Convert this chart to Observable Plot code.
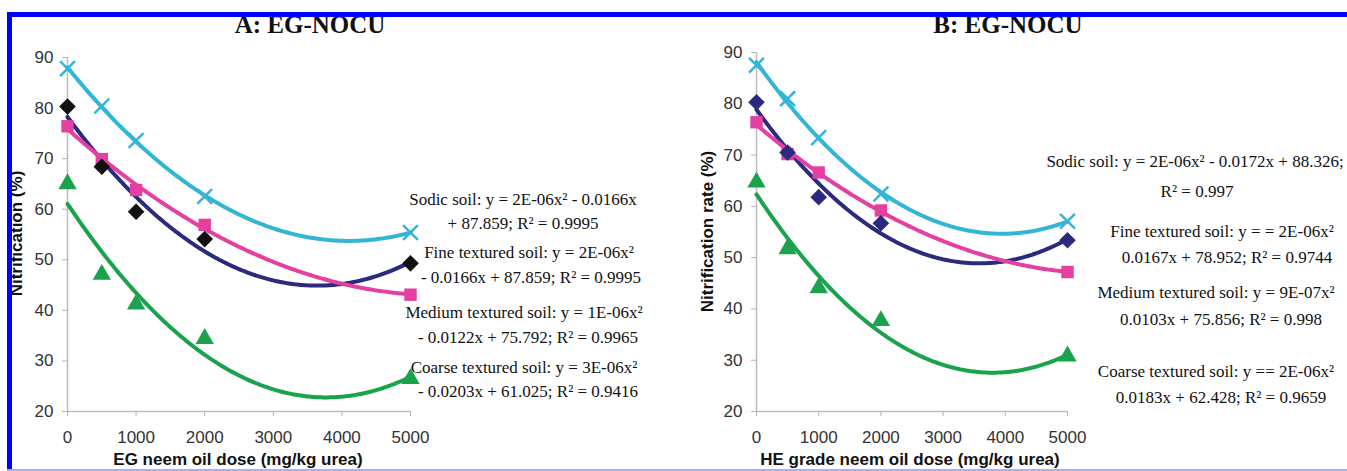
<!DOCTYPE html>
<html><head><meta charset="utf-8">
<script src="https://cdn.jsdelivr.net/npm/d3@7"></script>
<script src="https://cdn.jsdelivr.net/npm/@observablehq/plot@0.6"></script>
<style>
html,body{margin:0;padding:0;background:#fff;}
#wrap{position:relative;width:1347px;height:471px;overflow:hidden;background:#fff;}
.plot{position:absolute;top:0;}
.t{position:absolute;white-space:nowrap;text-align:center;line-height:1;color:#111;}
.serif{font-family:"Liberation Serif","Times New Roman",serif;}
.sans{font-family:"Liberation Sans",Arial,sans-serif;}
.bar{position:absolute;z-index:5;}
svg [aria-label="x-axis tick"] path, svg [aria-label="y-axis tick"] path,
svg g[aria-label="x-axis"] line, svg g[aria-label="y-axis"] line{stroke:#b5b5b5;}
</style></head><body><div id="wrap"></div>
<script>
// ---------- data ----------
const doses = [0, 500, 1000, 2000, 5000];
const soilTypes = ["Sodic soil", "Fine textured soil", "Medium textured soil", "Coarse textured soil"];
const xTicks = [0, 1000, 2000, 3000, 4000, 5000];
const yTicks = [20, 30, 40, 50, 60, 70, 80, 90];

// Panel A: EG neem oil
const aSodic  = [87.8, 80.4, 73.6, 62.5, 55.4];
const aFine   = [80.3, 68.4, 59.5, 54.1, 49.3];
const aMedium = [76.4, 69.9, 63.8, 56.9, 43.1];
const aCoarse = [65.0, 47.1, 41.2, 34.4, 26.5];
// Panel B: HE grade neem oil
const bSodic  = [87.5, 81.0, 73.4, 62.4, 57.1];
const bFine   = [80.3, 70.5, 61.8, 56.7, 53.4];
const bMedium = [76.4, 70.2, 66.6, 59.2, 47.2];
const bCoarse = [64.7, 51.7, 44.1, 37.7, 30.8];

const titleA = "A: EG-NOCU";
const titleB = "B: EG-NOCU";
const xLabelA = "EG neem oil dose (mg/kg urea)";
const xLabelB = "HE grade neem oil dose (mg/kg urea)";
const yLabelA = "Nitrification (%)";
const yLabelB = "Nitrification rate (%)";

const eqA = [
  "Sodic soil: y = 2E-06x² - 0.0166x",
  "+ 87.859; R² = 0.9995",
  "Fine textured soil: y = 2E-06x²",
  "- 0.0166x + 87.859; R² = 0.9995",
  "Medium textured soil: y = 1E-06x²",
  "- 0.0122x + 75.792; R² = 0.9965",
  "Coarse textured soil: y = 3E-06x²",
  "- 0.0203x + 61.025; R² = 0.9416"
];
const eqB = [
  "Sodic soil: y = 2E-06x² - 0.0172x + 88.326;",
  "R² = 0.997",
  "Fine textured soil: y = = 2E-06x²",
  "0.0167x + 78.952; R² = 0.9744",
  "Medium textured soil: y = 9E-07x²",
  "0.0103x + 75.856; R² = 0.998",
  "Coarse textured soil: y == 2E-06x²",
  "0.0183x + 62.428; R² = 0.9659"
];

// ---------- styles / layout ----------
const colors = {"Sodic soil": "#33b6d6", "Fine textured soil": "#2b2a7e", "Medium textured soil": "#e340a1", "Coarse textured soil": "#1aa24c"};
const eqPosA = [[523,205],[523,229],[529,258],[531,283],[524,318],[528,343],[524,373],[528,397]];
const eqPosB = [[1195,167],[1197,197],[1222,237],[1227,263],[1216,298],[1221,325],[1216,377],[1221,403]];

// quadratic least-squares trendline (as in the spreadsheet trendline)
function quadFit(xs, ys) {
  const u = xs.map(x => x / 1000);
  let S = [0,0,0,0,0], T = [0,0,0];
  u.forEach((x, i) => {
    for (let k = 0; k < 5; k++) S[k] += Math.pow(x, k);
    for (let k = 0; k < 3; k++) T[k] += Math.pow(x, k) * ys[i];
  });
  const M = [[S[0],S[1],S[2]],[S[1],S[2],S[3]],[S[2],S[3],S[4]]];
  const det = m => m[0][0]*(m[1][1]*m[2][2]-m[1][2]*m[2][1]) - m[0][1]*(m[1][0]*m[2][2]-m[1][2]*m[2][0]) + m[0][2]*(m[1][0]*m[2][1]-m[1][1]*m[2][0]);
  const D = det(M);
  const coef = [0,1,2].map(c => det(M.map((row, r) => row.map((v, j) => j === c ? T[r] : v))) / D);
  return x => coef[0] + coef[1]*(x/1000) + coef[2]*(x/1000)*(x/1000);
}

function buildPanel(series, fineMarker, opts) {
  const rows = [];
  const trend = [];
  const grid = d3.range(0, 5001, 25);
  soilTypes.forEach((s, i) => {
    series[i].forEach((v, j) => rows.push({soil: s, dose: doses[j], value: v}));
    const f = quadFit(doses, series[i]);
    grid.forEach(x => trend.push({soil: s, dose: x, value: f(x)}));
  });
  const sel = s => d => d.soil === s;
  return Plot.plot({
    width: opts.width, height: 471,
    marginLeft: opts.ml, marginRight: opts.mr, marginTop: opts.mt, marginBottom: 60,
    style: {fontFamily: "Liberation Sans, Arial, sans-serif", fontSize: "17px", color: "#333", background: "transparent", overflow: "visible"},
    x: {domain: [0, 5000], ticks: xTicks, tickFormat: d => String(d), tickSize: 5, tickPadding: 14, label: null},
    y: {domain: [20, 90], ticks: yTicks, tickSize: 5, tickPadding: 9, label: null},
    marks: [
      Plot.ruleX([0], {stroke: "#bdbdbd", strokeWidth: 1.5}),
      Plot.ruleY([20], {stroke: "#bdbdbd", strokeWidth: 1.5}),
      ...soilTypes.map(s => Plot.line(trend.filter(sel(s)), {x: "dose", y: "value", stroke: colors[s], strokeWidth: 4, curve: "linear"})),
      Plot.dot(rows.filter(sel("Coarse textured soil")), {x: "dose", y: "value", symbol: "triangle", r: 6.8, fill: colors["Coarse textured soil"]}),
      Plot.dot(rows.filter(sel("Medium textured soil")), {x: "dose", y: "value", symbol: "square", r: 7, fill: colors["Medium textured soil"]}),
      Plot.dot(rows.filter(sel("Fine textured soil")), {x: "dose", y: "value", symbol: "diamond2", r: 7.5, fill: fineMarker}),
      Plot.dot(rows.filter(sel("Sodic soil")), {x: "dose", y: "value", symbol: "times", r: 6.8, stroke: colors["Sodic soil"], strokeWidth: 2.5})
    ]
  });
}

const wrap = document.getElementById("wrap");
const pA = buildPanel([aSodic, aFine, aMedium, aCoarse], "#111111", {width: 680, ml: 67, mr: 270, mt: 57});
pA.classList.add("plot"); pA.style.left = "0px";
wrap.appendChild(pA);
const pB = buildPanel([bSodic, bFine, bMedium, bCoarse], "#2b2a7e", {width: 667, ml: 76, mr: 280, mt: 52});
pB.classList.add("plot"); pB.style.left = "680px";
wrap.appendChild(pB);

function addText(txt, cx, baseline, size, cls, weight, rotate) {
  const d = document.createElement("div");
  d.className = "t " + cls;
  d.textContent = txt;
  d.style.fontSize = size + "px";
  d.style.fontWeight = weight || "normal";
  d.style.width = "600px";
  d.style.left = (cx - 300) + "px";
  if (rotate) {
    d.style.top = (baseline - size / 2) + "px";
    d.style.height = size + "px";
    d.style.transform = "rotate(-90deg)";
    d.style.transformOrigin = "50% 50%";
  } else {
    d.style.top = (baseline - 0.84 * size) + "px";
  }
  wrap.appendChild(d);
}
addText(titleA, 310, 33, 25, "serif", "bold");
addText(titleB, 1008, 33, 25, "serif", "bold");
addText(xLabelA, 238, 465, 17, "sans", "bold");
addText(xLabelB, 910, 465, 17, "sans", "bold");
addText(yLabelA, 16, 233, 17, "sans", "bold", true);
addText(yLabelB, 707, 231, 17, "sans", "bold", true);
eqA.forEach((s, i) => addText(s, eqPosA[i][0], eqPosA[i][1], 17, "serif"));
eqB.forEach((s, i) => addText(s, eqPosB[i][0], eqPosB[i][1], 17, "serif"));

function bar(l, t, w, h, c) {
  const d = document.createElement("div");
  d.className = "bar";
  Object.assign(d.style, {left: l + "px", top: t + "px", width: w + "px", height: h + "px", background: c});
  wrap.appendChild(d);
}
bar(7, 12, 1340, 5, "#0000fe");
bar(7, 12, 5, 459, "#0000fe");
bar(7, 469, 1340, 2, "#a9aef8");
</script></body></html>
